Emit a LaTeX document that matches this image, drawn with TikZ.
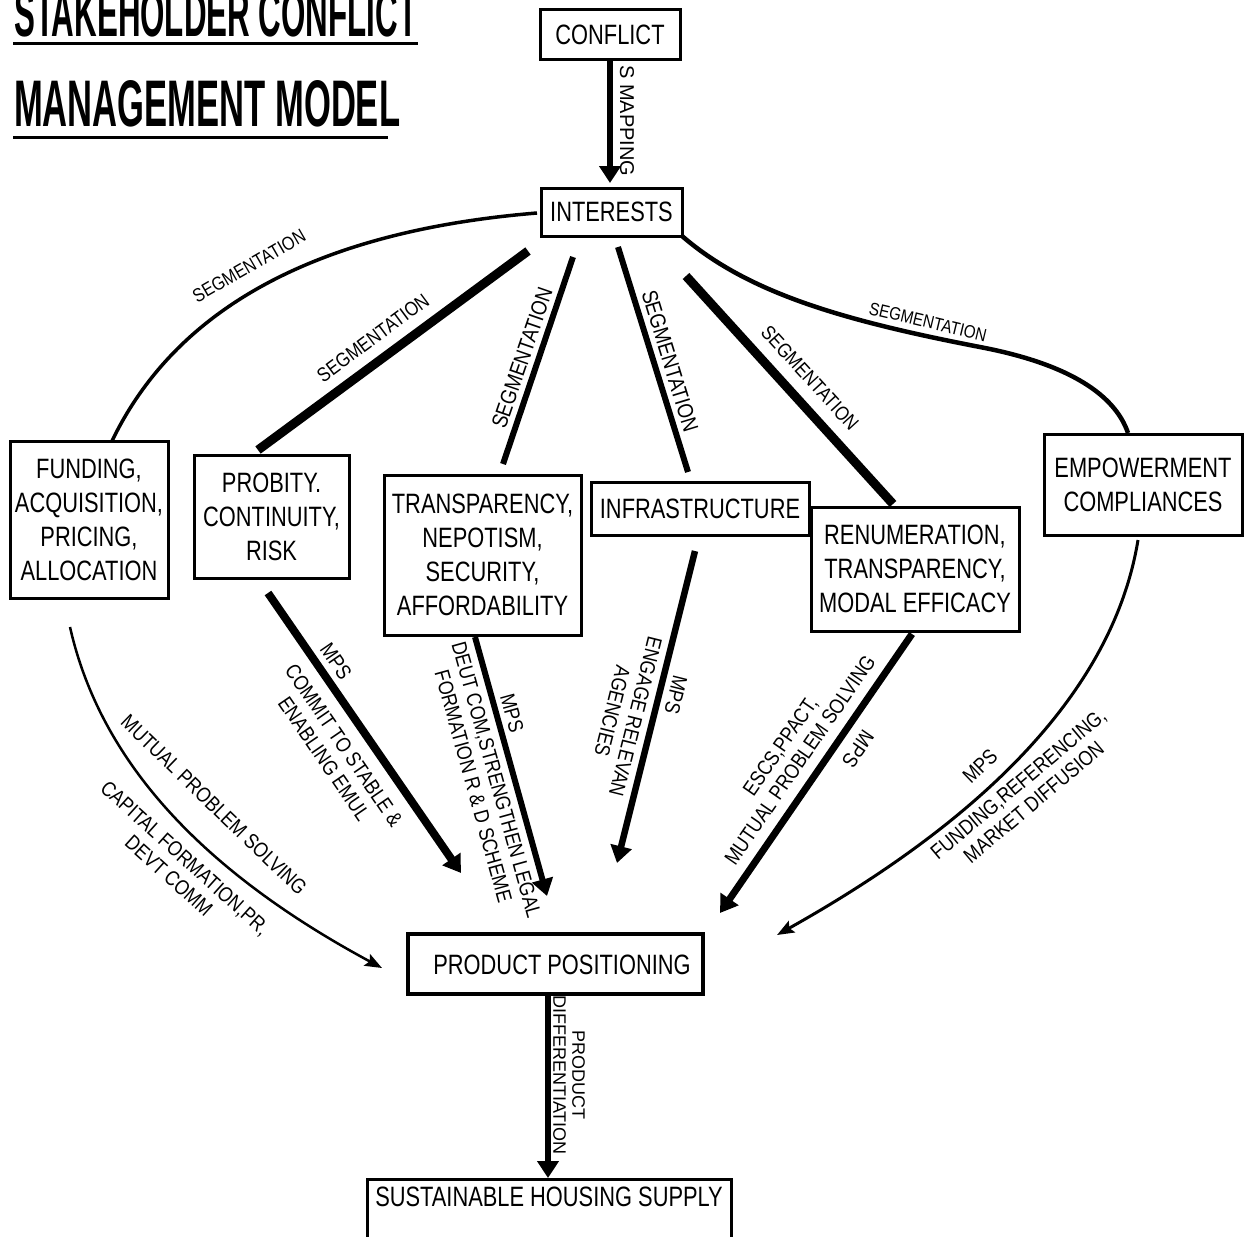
\documentclass[tikz,border=0pt]{standalone}
\usepackage{fontspec}
\usetikzlibrary{arrows.meta}
\newfontfamily\boxfont[FakeStretch=0.78]{Liberation Sans}
\newfontfamily\labfont[FakeStretch=0.85]{Liberation Sans}
\newfontfamily\plainfont{Liberation Sans}
\newcommand\lsz[1]{\labfont\fontsize{#1}{24}\selectfont}

\begin{document}
\begin{tikzpicture}[x=1pt,y=-1pt,
  box/.style={draw, line width=3pt, fill=white, inner sep=0pt, align=center,
    font=\boxfont\fontsize{28}{34}\selectfont},
  boxtext/.style={inner sep=0pt, font=\boxfont\fontsize{28}{34}\selectfont},
  lab/.style={inner sep=0pt, align=center, font=\lsz{21}},
  vlab/.style={inner sep=0pt, align=center, font=\plainfont\fontsize{18}{19}\selectfont},
  bigtip/.style={-{Triangle[length=17pt,width=21pt]}},
  thintip/.style={-{Stealth[length=17pt,width=13pt,inset=3pt]}}]

\useasboundingbox (0,0) rectangle (1244,1236);
\fill[white] (0,0) rectangle (1244,1236);
\clip (0,0) rectangle (1244,1236);

% ---- title ----
\node[anchor=base west, inner sep=0pt] (title1) at (14,37)
  {\resizebox{403pt}{46pt}{\plainfont\bfseries STAKEHOLDER CONFLICT}};
\node[anchor=base west, inner sep=0pt] (title2) at (14,127)
  {\resizebox{386pt}{46pt}{\plainfont\bfseries MANAGEMENT MODEL}};
\draw[line width=3pt] (13,44) -- (418,44);
\draw[line width=3pt] (13,137) -- (388,137);

% ---- connector end points ----
\coordinate (mapEnd) at (610,183);
\coordinate (sFa) at (537,213);  \coordinate (sFb) at (112,441);
\coordinate (sPa) at (528,251);  \coordinate (sPb) at (258,450);
\coordinate (sTa) at (573,257);  \coordinate (sTb) at (503,464);
\coordinate (sIa) at (618,247);  \coordinate (sIb) at (688,472);
\coordinate (sRa) at (686,276);  \coordinate (sRb) at (893,504);
\coordinate (sEa) at (682,236);  \coordinate (sEm) at (985,348); \coordinate (sEb) at (1128,433);
\coordinate (mFa) at (70,627);   \coordinate (mFb) at (382,968);
\coordinate (mPa) at (268,593);  \coordinate (mPb) at (461,873);
\coordinate (mTa) at (475,637);  \coordinate (mTb) at (547,896);
\coordinate (mIa) at (695,551);  \coordinate (mIb) at (617,863);
\coordinate (mRa) at (912,634);  \coordinate (mRb) at (720,913);
\coordinate (mEa) at (1138,540); \coordinate (mEb) at (777,935);
\coordinate (supTop) at (548,1178);

% ---- connectors ----
\draw[line width=6pt, bigtip] (610,60) -- (mapEnd);

\draw[line width=3.5pt] (sFa) .. controls (330,230) and (180,300) .. (sFb);
\draw[line width=9pt] (sPa) -- (sPb);
\draw[line width=6pt] (sTa) -- (sTb);
\draw[line width=6pt] (sIa) -- (sIb);
\draw[line width=9pt] (sRa) -- (sRb);
\draw[line width=4.5pt] (sEa) .. controls (750,295) and (850,322) .. (sEm)
  .. controls (1070,365) and (1115,395) .. (sEb);

\draw[line width=2.5pt, thintip] (mFa) .. controls (100,760) and (200,870) .. (mFb);
\draw[line width=8pt, bigtip] (mPa) -- (mPb);
\draw[line width=6pt, bigtip] (mTa) -- (mTb);
\draw[line width=6.5pt, bigtip] (mIa) -- (mIb);
\draw[line width=7pt, bigtip] (mRa) -- (mRb);
\draw[line width=3pt, thintip] (mEa) .. controls (1115,680) and (1000,810) .. (mEb);

\draw[line width=6pt, bigtip] (548,994) -- (supTop);

% ---- connector labels ----
\node[vlab, font=\plainfont\fontsize{20}{20}\selectfont, rotate=-90] (lmap) at (627,121) {S MAPPING};

\node[lab, font=\lsz{19}, rotate=30] (lsegF) at (249,266) {SEGMENTATION};
\node[lab, font=\lsz{20}, rotate=36.5] (lsegP) at (373,338) {SEGMENTATION};
\node[lab, font=\lsz{22}, rotate=71] (lsegT) at (522,358) {SEGMENTATION};
\node[lab, font=\lsz{22}, rotate=-73] (lsegI) at (670,361) {SEGMENTATION};
\node[lab, font=\lsz{20}, rotate=-47.6] (lsegR) at (810,378) {SEGMENTATION};
\node[lab, font=\lsz{18}, rotate=-13.5] (lsegE) at (928,322) {SEGMENTATION};

\node[lab, rotate=-44] (lmF1) at (214,805) {MUTUAL PROBLEM SOLVING};
\node[lab, rotate=-42] (lmF2) at (177,867) {CAPITAL FORMATION,PR,\\DEVT COMM};

\node[lab, rotate=-55.6] (lmP1) at (336,661) {MPS};
\node[lab, rotate=-55.6] (lmP2) at (334,752) {COMMIT TO STABLE \&\\ENABLING EMUL};

\node[lab, rotate=-74.5] (lmT1) at (512,713) {MPS};
\node[lab, rotate=-74.5] (lmT2) at (485,783) {DEUT COM,STRENGTHEN LEGAL\\FORMATION R \& D SCHEME};

\node[lab, rotate=-104] (lmI1) at (676,695) {MPS};
\node[lab, rotate=-104] (lmI2) at (624,714) {ENGAGE RELEVAN\\AGENCIES};

\node[lab, rotate=55.4] (lmR1) at (790,753) {ESCS,PPACT,\\MUTUAL PROBLEM SOLVING};
\node[lab, rotate=-124.6] (lmR2) at (858,749) {MPS};

\node[lab, rotate=44] (lmE1) at (980,766) {MPS};
\node[lab, rotate=40] (lmE2) at (1026,793) {FUNDING,REFERENCING,\\MARKET DIFFUSION};

\node[vlab, rotate=-90] (lpd) at (569,1075) {PRODUCT\\DIFFERENTIATION};

% ---- boxes ----
\node[box, minimum width=140pt, minimum height=50pt] (conflict) at (610,35) {CONFLICT};
\node[box, minimum width=141pt, minimum height=48pt] (interests) at (611.5,212) {INTERESTS};
\node[box, minimum width=158pt, minimum height=157pt] (funding) at (89,519.5)
  {FUNDING,\\ACQUISITION,\\PRICING,\\ALLOCATION};
\node[box, minimum width=155pt, minimum height=123pt] (probity) at (271.5,516.5)
  {PROBITY.\\CONTINUITY,\\RISK};
\node[box, minimum width=197pt, minimum height=160pt] (transp) at (482.5,555)
  {TRANSPARENCY,\\NEPOTISM,\\SECURITY,\\AFFORDABILITY};
\node[box, minimum width=218pt, minimum height=53pt] (infra) at (700,508.5) {INFRASTRUCTURE};
\node[box, minimum width=208pt, minimum height=124pt] (renum) at (915,569)
  {RENUMERATION,\\TRANSPARENCY,\\MODAL EFFICACY};
\node[box, minimum width=198pt, minimum height=101pt] (empower) at (1143,484.5)
  {EMPOWERMENT\\COMPLIANCES};
\node[box, line width=4pt, minimum width=295pt, minimum height=60pt] (product) at (555.5,964) {};
\node[boxtext] (productlabel) at (562,965) {PRODUCT POSITIONING};
\draw[line width=3pt, fill=white] (367,1179) rectangle (731,1262);
\node[boxtext] (supply) at (549,1197) {SUSTAINABLE HOUSING SUPPLY};

\end{tikzpicture}
\end{document}
